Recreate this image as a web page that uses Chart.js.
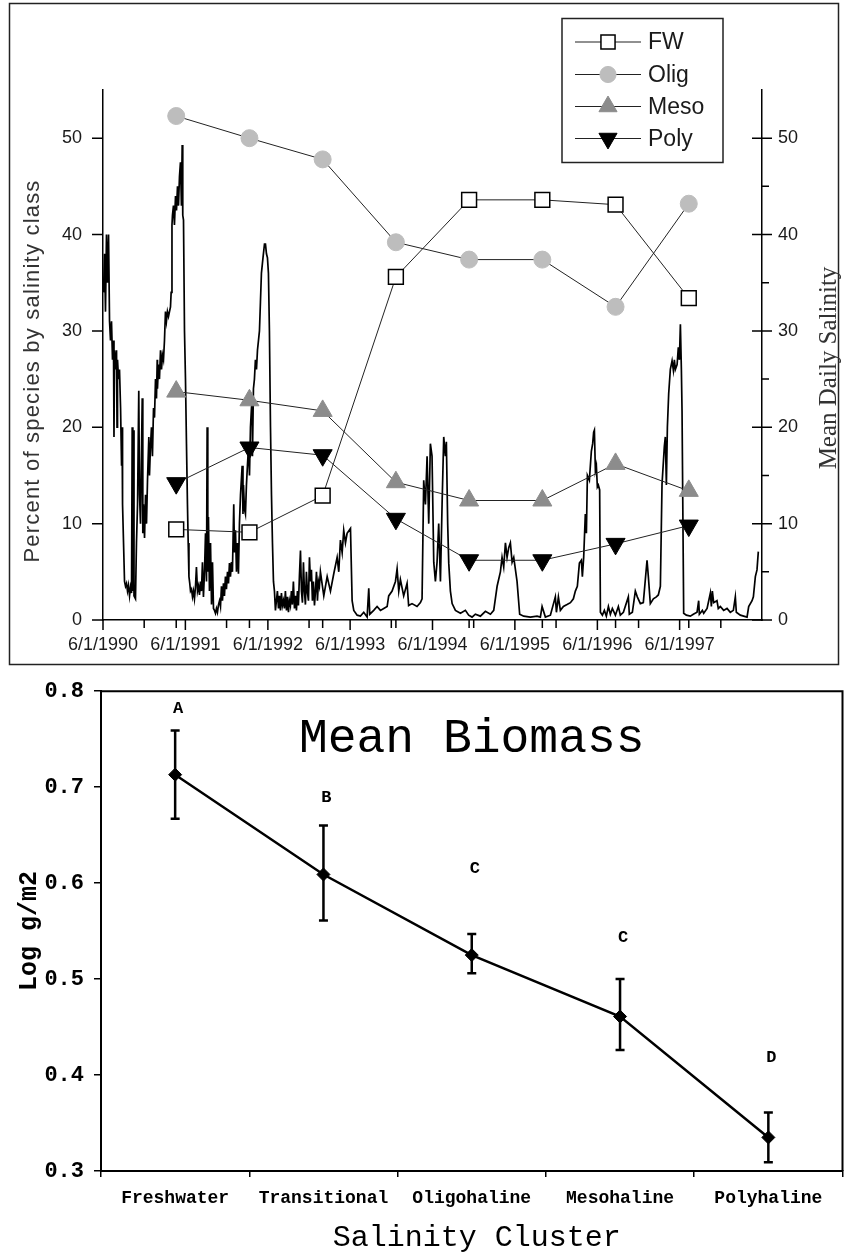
<!DOCTYPE html>
<html><head><meta charset="utf-8">
<script src="https://cdn.jsdelivr.net/npm/chart.js@4.4.1/dist/chart.umd.min.js"></script>
<style>
html,body{margin:0;padding:0;background:#fff;}
#wrap{position:relative;width:844px;height:1255px;overflow:hidden;background:#fff;}
#top{position:absolute;left:0;top:0;}
#bot{position:absolute;left:0;top:668px;}
</style></head>
<body>
<div id="wrap">
<canvas id="top" width="844" height="668"></canvas>
<canvas id="bot" width="850" height="587"></canvas>
</div>
<script>
// ===================== DATA: top chart =====================
const sampleIndex = [1, 2, 3, 4, 5, 6, 7, 8];
const seriesNames = ['FW', 'Olig', 'Meso', 'Poly'];
const fwPct   = [9.4, 9.1, 12.9, 35.6, 43.6, 43.6, 43.1, 33.4];
const oligPct = [52.3, 50.0, 47.8, 39.2, 37.4, 37.4, 32.5, 43.2];
const mesoPct = [23.7, 22.8, 21.7, 14.3, 12.4, 12.4, 16.2, 13.4];
const polyPct = [14.2, 17.9, 17.1, 10.5, 6.2, 6.2, 7.9, 9.8];
const xTickLabels = ['6/1/1990','6/1/1991','6/1/1992','6/1/1993','6/1/1994','6/1/1995','6/1/1996','6/1/1997'];
const leftTicks = [0, 10, 20, 30, 40, 50];
const rightTicks = [0, 10, 20, 30, 40, 50];
const leftTitle = 'Percent of species by salinity class';
const rightTitle = 'Mean Daily Salinity';

// mean daily salinity (decimal year, value)
const salYear = [
1990.420,1990.432,1990.444,1990.456,1990.469,1990.481,1990.493,1990.505,1990.517,1990.529,
1990.541,1990.547,1990.554,1990.566,1990.578,1990.584,1990.590,1990.602,1990.614,1990.627,
1990.639,1990.645,1990.651,1990.663,1990.675,1990.687,1990.699,1990.711,1990.723,1990.736,
1990.748,1990.760,1990.768,1990.776,1990.784,1990.790,1990.796,1990.808,1990.820,1990.833,
1990.848,1990.857,1990.869,1990.890,1990.897,1990.905,1990.918,1990.930,1990.942,1990.954,
1990.970,1990.978,1990.990,1991.002,1991.014,1991.027,1991.039,1991.051,1991.063,1991.072,
1991.075,1991.087,1991.099,1991.112,1991.124,1991.136,1991.148,1991.160,1991.172,1991.184,
1991.196,1991.209,1991.221,1991.233,1991.241,1991.251,1991.257,1991.269,1991.281,1991.294,
1991.306,1991.318,1991.330,1991.342,1991.354,1991.366,1991.375,1991.382,1991.391,1991.403,
1991.415,1991.427,1991.439,1991.448,1991.457,1991.467,1991.476,1991.488,1991.500,1991.512,
1991.524,1991.536,1991.548,1991.561,1991.573,1991.585,1991.597,1991.609,1991.621,1991.633,
1991.646,1991.658,1991.670,1991.678,1991.686,1991.694,1991.706,1991.719,1991.731,1991.743,
1991.755,1991.767,1991.779,1991.791,1991.803,1991.816,1991.828,1991.840,1991.852,1991.864,
1991.876,1991.888,1991.900,1991.912,1991.925,1991.937,1991.949,1991.961,1991.973,1991.985,
1992.001,1992.010,1992.022,1992.034,1992.046,1992.058,1992.070,1992.083,1992.103,1992.113,
1992.119,1992.131,1992.143,1992.155,1992.167,1992.180,1992.192,1992.204,1992.216,1992.225,
1992.228,1992.240,1992.252,1992.264,1992.277,1992.289,1992.301,1992.313,1992.325,1992.337,
1992.349,1992.361,1992.374,1992.386,1992.398,1992.410,1992.422,1992.434,1992.447,1992.459,
1992.471,1992.483,1992.495,1992.507,1992.519,1992.531,1992.544,1992.556,1992.568,1992.580,
1992.592,1992.604,1992.616,1992.628,1992.641,1992.653,1992.665,1992.677,1992.689,1992.701,
1992.713,1992.725,1992.738,1992.750,1992.762,1992.774,1992.786,1992.798,1992.811,1992.823,
1992.835,1992.847,1992.859,1992.871,1992.883,1992.896,1992.908,1992.920,1992.932,1992.944,
1992.956,1992.968,1992.981,1992.993,1993.005,1993.017,1993.029,1993.041,1993.053,1993.094,
1993.135,1993.175,1993.215,1993.256,1993.276,1993.296,1993.317,1993.336,1993.357,1993.377,
1993.418,1993.438,1993.458,1993.499,1993.539,1993.579,1993.620,1993.640,1993.652,1993.700,
1993.741,1993.782,1993.822,1993.863,1993.882,1993.923,1993.964,1993.984,1994.004,1994.024,
1994.064,1994.105,1994.124,1994.165,1994.226,1994.267,1994.287,1994.307,1994.328,1994.348,
1994.368,1994.388,1994.408,1994.429,1994.449,1994.469,1994.489,1994.510,1994.530,1994.550,
1994.570,1994.582,1994.598,1994.611,1994.631,1994.652,1994.692,1994.753,1994.813,1994.853,
1994.894,1994.934,1994.995,1995.056,1995.117,1995.157,1995.198,1995.238,1995.258,1995.278,
1995.299,1995.319,1995.339,1995.359,1995.380,1995.400,1995.440,1995.472,1995.521,1995.602,
1995.683,1995.723,1995.744,1995.784,1995.845,1995.905,1995.918,1995.942,1995.966,1996.003,
1996.047,1996.088,1996.124,1996.148,1996.172,1996.197,1996.221,1996.233,1996.249,1996.269,
1996.282,1996.294,1996.318,1996.342,1996.358,1996.370,1996.379,1996.391,1996.403,1996.415,
1996.427,1996.443,1996.452,1996.476,1996.500,1996.524,1996.549,1996.573,1996.597,1996.634,
1996.670,1996.694,1996.731,1996.791,1996.803,1996.840,1996.876,1996.900,1996.937,1996.973,
1997.018,1997.034,1997.058,1997.095,1997.131,1997.155,1997.180,1997.200,1997.228,1997.240,
1997.253,1997.265,1997.281,1997.301,1997.322,1997.338,1997.350,1997.362,1997.383,1997.398,
1997.411,1997.423,1997.435,1997.443,1997.463,1997.495,1997.544,1997.580,1997.625,1997.645,
1997.653,1997.690,1997.706,1997.747,1997.787,1997.799,1997.811,1997.827,1997.867,1997.883,
1997.908,1997.948,1997.989,1998.029,1998.066,1998.090,1998.102,1998.151,1998.191,1998.232,
1998.252,1998.293,1998.309,1998.333,1998.353,1998.369];
const salValue = [
34,38,32,40,35,40,31,29,31,27,
29,19,28,26,28,20,27,25,26,22,
16,20,12,8,4,3.5,3.8,3,3.6,2.5,
3.4,2.8,20,3,19.7,2.5,2.4,2.2,8,12,
23.8,13,10,23,9,12,8.5,13,10,14.5,
19,15,18,20,17,22,21,25,23,27,
24,26.5,25,28,26,27.5,27,29,32,31,
32,31.5,32,32.5,34,41,42,43,41,44,
42.5,45,43,46,47.5,43,49.3,42,41.5,30,
25,18.3,12,8,4.5,3.8,3,3.2,2.4,3,
2.2,3.4,5.5,3,3.5,2.6,4,3,6,2.4,
5,9,4,20,5,10.7,3,8,1.6,6,
1.2,1,0.7,1.2,0.8,1.6,2,1.4,3.5,2,
3.8,2.5,4.5,3.2,5,3.8,5.9,4.5,6,5,
12,7,9.3,5,8,4.8,10,13,16,11,
14,11.5,11,14,16,18,15,20,22,23,
17,24,25,27,26,28,29,30,33,36,
37,38,39,39,38,37.6,36,30,20,13,
8,4,3,1,2,3,1.2,2.5,1,2.8,
1.5,2,1.2,3,1,2.4,0.8,2,1.5,3,
1.6,4,1.2,2.5,1,3,1.5,4.5,7.2,3,
1.8,6,3,1.6,5,2.8,2,6.5,4,5.2,
2,4,1.5,3,5,2,4,3.5,5,2.5,
4.5,3,4.8,6.5,5,8.3,7,9.3,8,9,
9.5,2,1,0.5,0.4,0.8,0.3,3.3,0.6,1,
1.4,1,1.2,1.4,2.5,3,4,5.3,3,4.2,
2.5,3.8,1.5,1.7,1.4,1.8,2.2,14.5,12,17,
10,18.3,17,6,4,6,10,4,12,19,
17,18.5,10,5.9,3,1.7,1,0.7,1,0.5,
0.3,0.6,0.4,0.9,0.6,1,3.5,5,6.5,5.5,
8,6.5,7.5,8,6,6.5,4,0.6,0.4,0.3,
0.4,0.3,1.4,0.3,0.5,2.4,0.8,2.4,1.0,1.4,
1.6,1.8,2.2,3,3.5,5.9,6.2,4.5,6.5,11,
9,15,14.5,17.5,18.3,19.5,19.7,15.5,16,13.8,
14,13.5,0.8,0.5,1.0,0.4,1.4,0.6,1.2,0.5,
1.4,0.5,0.8,2.4,0.6,0.8,3,2.4,1.7,1.8,
6.2,4.5,1.7,2.2,2.4,2.6,3.5,14.1,18,19,
14,20,23.5,26,26.9,25.9,27,26,26.5,28.3,
27,30.7,26,21.7,0.7,0.5,0.4,0.6,0.8,2.0,
0.6,1.0,0.7,1.2,2.8,1.4,3,1.8,2,1.2,
1.4,1,1.2,0.8,1,2.4,0.8,0.5,0.4,0.3,
1.4,2,2.4,4.5,5.2,7.1];

// ===================== DATA: bottom chart =====================
const clusters = ['Freshwater', 'Transitional', 'Oligohaline', 'Mesohaline', 'Polyhaline'];
const meanLog  = [0.713, 0.609, 0.525, 0.461, 0.335];
const errHigh  = [0.759, 0.660, 0.547, 0.500, 0.361];
const errLow   = [0.667, 0.561, 0.506, 0.426, 0.309];
const sigLetters  = ['A', 'B', 'C', 'C', 'D'];
const letterLevel = [0.782, 0.689, 0.615, 0.543, 0.418];
const bioTicks = [0.3, 0.4, 0.5, 0.6, 0.7, 0.8];
const bioTitle = 'Mean Biomass';
const bioXTitle = 'Salinity Cluster';
const bioYTitle = 'Log g/m2';

// ===================== helpers =====================
const SANS = '"Liberation Sans", Arial, sans-serif';
const SERIF = '"Liberation Serif", "Times New Roman", serif';
const MONO = '"Liberation Mono", "Courier New", monospace';

function decYear(s) {
  const [m, d, y] = s.split('/').map(Number);
  const a = Date.UTC(y, 0, 1), b = Date.UTC(y + 1, 0, 1);
  return y + (Date.UTC(y, m - 1, d) - a) / (b - a);
}
const majorYears = xTickLabels.map(decYear);
const xMin = majorYears[0];
const xMax = majorYears[0] + xTickLabels.length;

const styles = [
  { style: 'rect', r: 10.5, rot: 0, fill: '#ffffff', stroke: '#000', bw: 1.5 },
  { style: 'circle', r: 8.5, rot: 0, fill: '#bdbdbd', stroke: '#bdbdbd', bw: 1 },
  { style: 'triangle', r: 11, rot: 0, fill: '#8c8c8c', stroke: '#8c8c8c', bw: 1 },
  { style: 'triangle', r: 11, rot: 180, fill: '#000000', stroke: '#000', bw: 1 }
];
const speciesData = [fwPct, oligPct, mesoPct, polyPct];

function drawMarker(ctx, s, x, y, k) {
  const r = s.r * k;
  ctx.save();
  ctx.fillStyle = s.fill; ctx.strokeStyle = s.stroke; ctx.lineWidth = s.bw;
  ctx.beginPath();
  if (s.style === 'rect') {
    const h = Math.SQRT1_2 * r;
    ctx.rect(x - h, y - h, 2 * h, 2 * h);
  } else if (s.style === 'circle') {
    ctx.arc(x, y, r, 0, Math.PI * 2);
  } else {
    let a = s.rot * Math.PI / 180;
    for (let i = 0; i < 3; i++) {
      const px = x + Math.sin(a) * r, py = y - Math.cos(a) * r;
      if (i === 0) ctx.moveTo(px, py); else ctx.lineTo(px, py);
      a += 2 * Math.PI / 3;
    }
    ctx.closePath();
  }
  ctx.fill(); ctx.stroke();
  ctx.restore();
}

// ===================== TOP CHART =====================
const topDecor = {
  id: 'topDecor',
  afterDraw(chart) {
    const { ctx, chartArea: a, scales } = chart;
    const xS = scales.x, xsS = scales.xs, yS = scales.y, y2S = scales.y2;
    ctx.save();
    // outer frame
    ctx.strokeStyle = '#222'; ctx.lineWidth = 1.5;
    ctx.strokeRect(9.5, 3.5, 829, 661);
    // tick marks
    ctx.strokeStyle = '#000'; ctx.lineWidth = 1.5;
    ctx.beginPath();
    leftTicks.forEach(v => {
      const p = yS.getPixelForValue(v);
      ctx.moveTo(a.left - 11, p); ctx.lineTo(a.left, p);
    });
    rightTicks.forEach((v, i) => {
      const p = y2S.getPixelForValue(v);
      ctx.moveTo(a.right - 10, p); ctx.lineTo(a.right + 10, p);
      if (i < rightTicks.length - 1) {
        const m = y2S.getPixelForValue((v + rightTicks[i + 1]) / 2);
        ctx.moveTo(a.right, m); ctx.lineTo(a.right + 7, m);
      }
    });
    xS.ticks.forEach((t, i) => {
      const p = xS.getPixelForValue(t.value);
      ctx.moveTo(p, a.bottom); ctx.lineTo(p, a.bottom + (i % 2 === 0 ? 10 : 8));
    });
    sampleIndex.forEach(s => {
      const p = xsS.getPixelForValue(s);
      ctx.moveTo(p, a.bottom); ctx.lineTo(p, a.bottom + 8);
    });
    ctx.stroke();

    // legend
    const lx = 562, ly = 18.5, lw = 161, lh = 144;
    ctx.fillStyle = '#fff'; ctx.fillRect(lx, ly, lw, lh);
    ctx.strokeStyle = '#222'; ctx.lineWidth = 1.5; ctx.strokeRect(lx, ly, lw, lh);
    const rows = [42, 74.5, 106.5, 138.5];
    seriesNames.forEach((n, i) => {
      const ry = rows[i];
      ctx.strokeStyle = '#222'; ctx.lineWidth = 1.2;
      ctx.beginPath(); ctx.moveTo(575, ry); ctx.lineTo(641, ry); ctx.stroke();
      drawMarker(ctx, styles[i], 608, ry, 0.95);
      ctx.fillStyle = '#1a1a1a'; ctx.font = '23px ' + SANS;
      ctx.textAlign = 'left'; ctx.textBaseline = 'middle';
      ctx.fillText(n, 648, ry + 1);
    });

    // axis titles
    ctx.fillStyle = '#333';
    ctx.save();
    ctx.translate(39, 371); ctx.rotate(-Math.PI / 2);
    ctx.font = '22px ' + SANS; ctx.textAlign = 'center'; ctx.textBaseline = 'alphabetic';
    try { ctx.letterSpacing = '1.2px'; } catch (e) {}
    ctx.fillText(leftTitle, 0, 0);
    ctx.restore();
    ctx.save();
    ctx.translate(836, 368); ctx.rotate(-Math.PI / 2);
    ctx.font = '25px ' + SERIF; ctx.textAlign = 'center'; ctx.textBaseline = 'alphabetic';
    ctx.fillText(rightTitle, 0, 0);
    ctx.restore();
    ctx.restore();
  }
};

const speciesSets = seriesNames.map((n, i) => ({
  label: n,
  data: sampleIndex.map((s, j) => ({ x: s, y: speciesData[i][j] })),
  xAxisID: 'xs', yAxisID: 'y',
  borderColor: '#222', borderWidth: 1,
  pointStyle: styles[i].style, pointRotation: styles[i].rot,
  pointRadius: styles[i].r, pointBackgroundColor: styles[i].fill,
  pointBorderColor: styles[i].stroke, pointBorderWidth: styles[i].bw,
  tension: 0, order: 0
}));

new Chart(document.getElementById('top'), {
  type: 'line',
  data: {
    datasets: [
      ...speciesSets,
      {
        label: 'Mean Daily Salinity',
        data: salYear.map((t, i) => ({ x: t, y: salValue[i] })),
        xAxisID: 'x', yAxisID: 'y2',
        borderColor: '#000', borderWidth: 1.7, pointRadius: 0, tension: 0, order: 5
      }
    ]
  },
  options: {
    responsive: false, animation: false, devicePixelRatio: 1,
    layout: { padding: { top: 90, left: 0, right: 0, bottom: 0 } },
    plugins: { legend: { display: false }, tooltip: { enabled: false } },
    scales: {
      x: {
        type: 'linear', position: 'bottom', min: xMin, max: xMax,
        afterBuildTicks: s => {
          const t = [];
          majorYears.forEach(v => { t.push({ value: v }); t.push({ value: v + 0.5 }); });
          s.ticks = t;
        },
        ticks: {
          autoSkip: false, maxRotation: 0, padding: 14, color: '#1a1a1a',
          font: { family: SANS, size: 18 },
          callback: (v, i) => (i % 2 === 0 ? xTickLabels[i / 2] : '')
        },
        grid: { drawOnChartArea: false, drawTicks: false },
        border: { color: '#000', width: 1.5 },
        afterFit: s => { s.height = 48; }
      },
      xs: { type: 'linear', display: false, min: 0, max: sampleIndex.length + 1 },
      y: {
        position: 'left', min: 0, max: 55,
        afterBuildTicks: s => { s.ticks = leftTicks.map(v => ({ value: v })); },
        ticks: { padding: 21, color: '#1a1a1a', font: { family: SANS, size: 18 } },
        grid: { drawOnChartArea: false, drawTicks: false },
        border: { color: '#000', width: 1.5 },
        afterFit: s => { s.width = 103; }
      },
      y2: {
        position: 'right', min: 0, max: 55,
        afterBuildTicks: s => { s.ticks = rightTicks.map(v => ({ value: v })); },
        ticks: { padding: 16, color: '#1a1a1a', font: { family: SANS, size: 18 } },
        grid: { drawOnChartArea: false, drawTicks: false },
        border: { color: '#000', width: 1.5 },
        afterFit: s => { s.width = 82; }
      }
    }
  },
  plugins: [topDecor]
});

// ===================== BOTTOM CHART =====================
const botDecor = {
  id: 'botDecor',
  afterDatasetsDraw(chart) {
    const { ctx, scales } = chart;
    const xS = scales.x, yS = scales.y;
    ctx.save();
    ctx.strokeStyle = '#000'; ctx.lineWidth = 2.5;
    ctx.beginPath();
    clusters.forEach((c, i) => {
      const px = xS.getPixelForValue(i);
      const hi = yS.getPixelForValue(errHigh[i]), lo = yS.getPixelForValue(errLow[i]);
      ctx.moveTo(px, hi); ctx.lineTo(px, lo);
      ctx.moveTo(px - 4.5, hi); ctx.lineTo(px + 4.5, hi);
      ctx.moveTo(px - 4.5, lo); ctx.lineTo(px + 4.5, lo);
    });
    ctx.stroke();
    ctx.restore();
  },
  afterDraw(chart) {
    const { ctx, chartArea: a, scales } = chart;
    const xS = scales.x, yS = scales.y;
    ctx.save();
    // frame top / right
    ctx.strokeStyle = '#000'; ctx.lineWidth = 2;
    ctx.beginPath();
    ctx.moveTo(a.left, a.top); ctx.lineTo(a.right, a.top); ctx.lineTo(a.right, a.bottom);
    ctx.stroke();
    // significance letters
    ctx.fillStyle = '#000'; ctx.font = 'bold 17px ' + MONO;
    ctx.textAlign = 'center'; ctx.textBaseline = 'middle';
    sigLetters.forEach((l, i) => {
      ctx.fillText(l, xS.getPixelForValue(i) + 3, yS.getPixelForValue(letterLevel[i]));
    });
    // inner title
    ctx.font = '48px ' + MONO; ctx.textBaseline = 'alphabetic';
    ctx.fillText(bioTitle, (a.left + a.right) / 2, 84);
    // x axis title
    ctx.font = '30px ' + MONO;
    ctx.fillText(bioXTitle, (a.left + a.right) / 2 + 5, 578);
    // y axis title
    ctx.save();
    ctx.translate(36, (a.top + a.bottom) / 2); ctx.rotate(-Math.PI / 2);
    ctx.font = 'bold 25px ' + MONO; ctx.textAlign = 'center';
    ctx.fillText(bioYTitle, 0, 0);
    ctx.restore();
    ctx.restore();
  }
};

new Chart(document.getElementById('bot'), {
  type: 'line',
  data: {
    labels: clusters,
    datasets: [{
      label: bioTitle, data: meanLog,
      borderColor: '#000', borderWidth: 2.5, tension: 0,
      pointStyle: 'rectRot', pointRadius: 6.5,
      pointBackgroundColor: '#000', pointBorderColor: '#000', pointBorderWidth: 1
    }]
  },
  options: {
    responsive: false, animation: false, devicePixelRatio: 1,
    layout: { padding: { top: 23, right: 5, left: 0, bottom: 0 } },
    plugins: { legend: { display: false }, tooltip: { enabled: false } },
    scales: {
      x: {
        type: 'category', offset: true,
        grid: { offset: true, drawOnChartArea: false, drawTicks: true, tickLength: 6, color: '#000', lineWidth: 1.5 },
        border: { color: '#000', width: 2 },
        ticks: { autoSkip: false, maxRotation: 0, padding: 11, color: '#000', font: { family: MONO, size: 18, weight: 'bold' } },
        afterFit: s => { s.height = 84; }
      },
      y: {
        min: 0.3, max: 0.8,
        afterBuildTicks: s => { s.ticks = bioTicks.map(v => ({ value: v })); },
        grid: { drawOnChartArea: false, drawTicks: true, tickLength: 7, color: '#000', lineWidth: 1.5 },
        border: { color: '#000', width: 2 },
        ticks: { padding: 10, color: '#000', font: { family: MONO, size: 22, weight: 'bold' }, callback: v => v.toFixed(1) },
        afterFit: s => { s.width = 101; }
      }
    }
  },
  plugins: [botDecor]
});
</script>
</body></html>
